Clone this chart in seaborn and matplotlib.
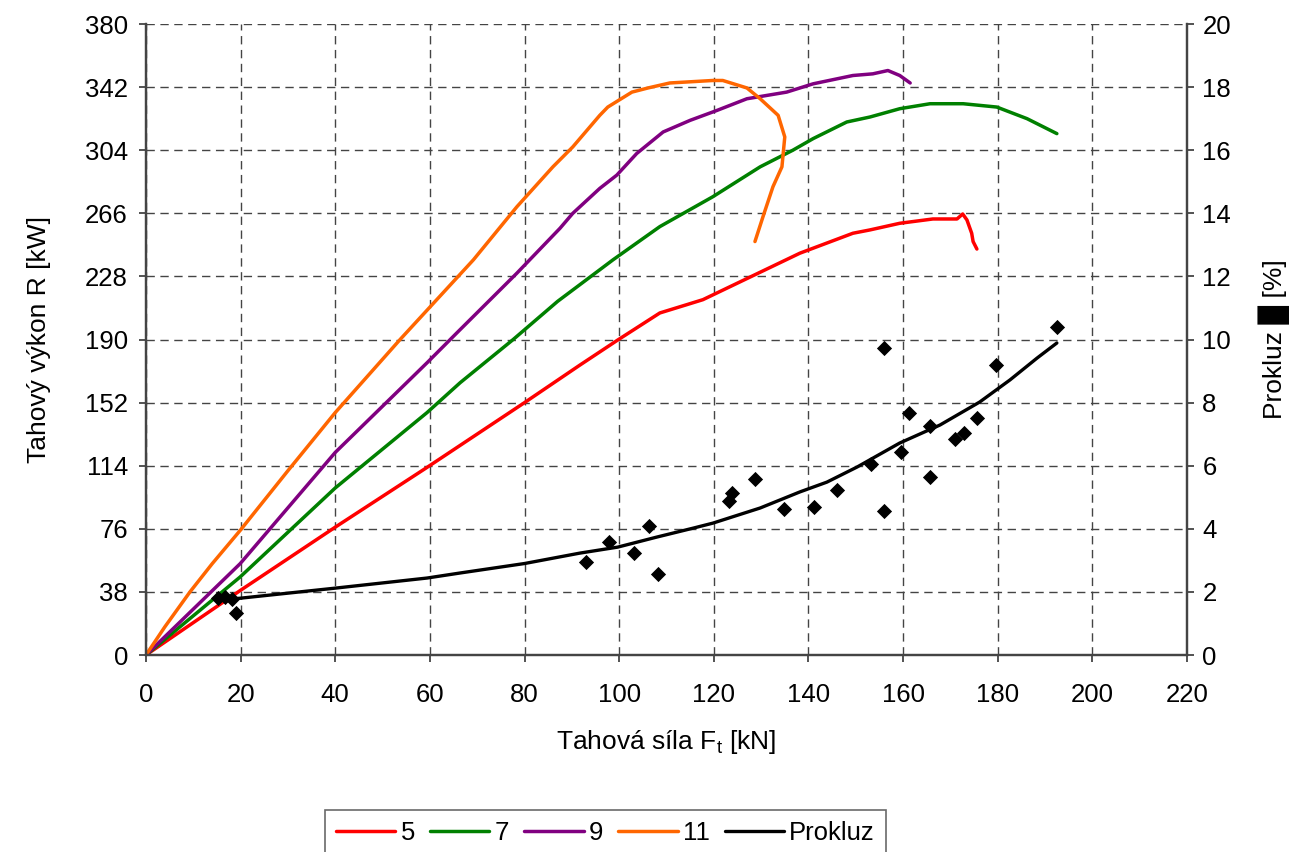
import numpy as np
import pandas as pd
import matplotlib
matplotlib.use('Agg')
import matplotlib.pyplot as plt
import seaborn as sns

# tahovy vykon R [kW] pro prevodove stupne 5, 7, 9, 11
f5 = [0, 20, 40, 59.4, 80, 91.7, 99.7, 108.6, 114.3, 117.7, 138.2, 149.4, 153, 159.3, 166.3, 171.4, 172.6, 173.5, 174.5, 174.8, 175.6]
r5 = [0, 39, 77, 113, 152, 174.6, 189.7, 206, 211, 214, 242, 254, 256, 260, 262.6, 262.6, 265.6, 262, 254, 249, 244.5]

f7 = [0, 19.9, 40, 59.4, 66.4, 77.6, 87, 95.9, 98.7, 108.6, 119.8, 129.8, 136.7, 141, 148.1, 153, 159.3, 165.7, 172.7, 179.8, 186.2, 192.5]
r7 = [0, 47, 100.6, 146, 164, 190, 213, 232, 238, 258, 276, 294, 304, 311, 321, 324, 329, 332, 332, 330, 323, 314]

f9 = [0, 19.9, 40, 59.4, 65.7, 78.4, 87.5, 90.2, 95.9, 99.5, 103.7, 109.3, 115, 120.7, 127, 135.4, 141, 149.4, 153.6, 156.8, 159.3, 161.5]
r9 = [0, 55, 122, 176, 194, 230, 257, 266, 281, 289, 302, 315, 322, 328, 335, 339, 344, 349, 350, 352, 349, 344.5]

f11 = [0, 4, 9.3, 14, 19.9, 30, 40, 53.7, 69.2, 78.4, 86, 90.2, 95.9, 97.6, 102.7, 106.1, 110.7, 119.8, 121.9, 127, 129.8, 133.6, 135, 134.4, 132.5, 130.4, 128.7]
r11 = [0, 17, 38, 55, 75, 111, 146, 190, 238, 270, 294, 306, 325, 330, 339, 341.5, 344.5, 346, 346, 341.5, 335, 325, 312, 294, 282, 264, 249]

# prokluz [%] - vyrovnana krivka
fp = [15.6, 19.9, 40, 59.4, 66.4, 80, 91.7, 99.7, 108, 115.6, 119.8, 129.8, 138.2, 143.9, 150.3, 159.3, 167.8, 176.2, 182.6, 188.3, 192.5]
sp = [1.75, 1.8, 2.12, 2.44, 2.6, 2.9, 3.23, 3.42, 3.74, 4.02, 4.18, 4.66, 5.17, 5.48, 5.96, 6.72, 7.29, 8.02, 8.72, 9.41, 9.89]

# namerene body prokluzu
fm = [15.2, 16.7, 18.2, 19, 93, 97.8, 103.1, 106.3, 108.2, 123.2, 123.8, 128.7, 134.8, 141.2, 146, 153.2,
      156, 156, 159.6, 161.2, 165.7, 165.7, 171, 172.9, 175.6, 179.6, 192.5]
sm = [1.8, 1.85, 1.77, 1.34, 2.95, 3.58, 3.22, 4.09, 2.57, 4.88, 5.13, 5.58, 4.63, 4.69, 5.23, 6.05,
      9.72, 4.57, 6.43, 7.67, 7.26, 5.64, 6.85, 7.04, 7.51, 9.19, 10.4]

sns.set_style('white')
plt.rcParams['font.family'] = ['Liberation Sans', 'DejaVu Sans']
plt.rcParams['font.size'] = 18
for k in ('text.color', 'axes.labelcolor', 'xtick.color', 'ytick.color'):
    plt.rcParams[k] = 'black'

fig = plt.figure(figsize=(12.94, 8.52), dpi=100)
ax = fig.add_axes([0.1128, 0.2312, 0.8045, 0.7406])
ax2 = ax.twinx()

lw = 2.5
sns.lineplot(x=f5, y=r5, ax=ax, color='#ff0000', lw=lw, sort=False, label='5')
sns.lineplot(x=f7, y=r7, ax=ax, color='#008000', lw=lw, sort=False, label='7')
sns.lineplot(x=f9, y=r9, ax=ax, color='#800080', lw=lw, sort=False, label='9')
sns.lineplot(x=f11, y=r11, ax=ax, color='#ff6600', lw=lw, sort=False, label='11')
sns.lineplot(x=fp, y=sp, ax=ax2, color='black', lw=2.4, sort=False, label='Prokluz')
sns.scatterplot(x=fm, y=sm, ax=ax2, color='black', marker='D', s=60, edgecolor='black', linewidth=0, zorder=5)

h1, l1 = ax.get_legend_handles_labels()
h2, l2 = ax2.get_legend_handles_labels()
for a in (ax, ax2):
    if a.get_legend() is not None:
        a.get_legend().remove()

ax.set_xlim(0, 220)
ax.set_ylim(0, 380)
ax2.set_ylim(0, 20)
ax.set_xticks(np.arange(0, 221, 20))
ax.set_yticks(np.arange(0, 381, 38))
ax2.set_yticks(np.arange(0, 21, 2))

ax.grid(True, ls=(0, (6, 4)), color='#444444', lw=1.0)
ax.set_axisbelow(True)
for a in (ax, ax2):
    a.spines['top'].set_visible(False)
    for s in ('left', 'bottom', 'right'):
        a.spines[s].set_color('#444444')
        a.spines[s].set_linewidth(1.6)
    a.tick_params(direction='out', length=5, width=1.3, color='#444444', labelsize=18.5)
ax.tick_params(axis='y', left=True, pad=8)
ax.tick_params(axis='x', bottom=True, pad=15)
ax2.tick_params(axis='y', right=True, pad=6)

ax.set_xlabel('Tahová síla F$_\\mathregular{t}$ [kN]', fontsize=19, labelpad=15)
ax.set_ylabel('Tahový výkon R [kW]', fontsize=19, labelpad=24)
ax2.set_ylabel('Prokluz \u2588 [%]', fontsize=19, labelpad=20)

leg = fig.legend(h1 + h2[:1], l1 + l2[:1], loc='center', bbox_to_anchor=(0.468, 0.022), ncol=5,
                 frameon=True, fancybox=False, edgecolor='#444444', fontsize=18.5,
                 handlelength=2.3, handletextpad=0.2, columnspacing=0.6, borderpad=0.45)
leg.get_frame().set_linewidth(1.2)

fig.savefig('out.png', dpi=100)
